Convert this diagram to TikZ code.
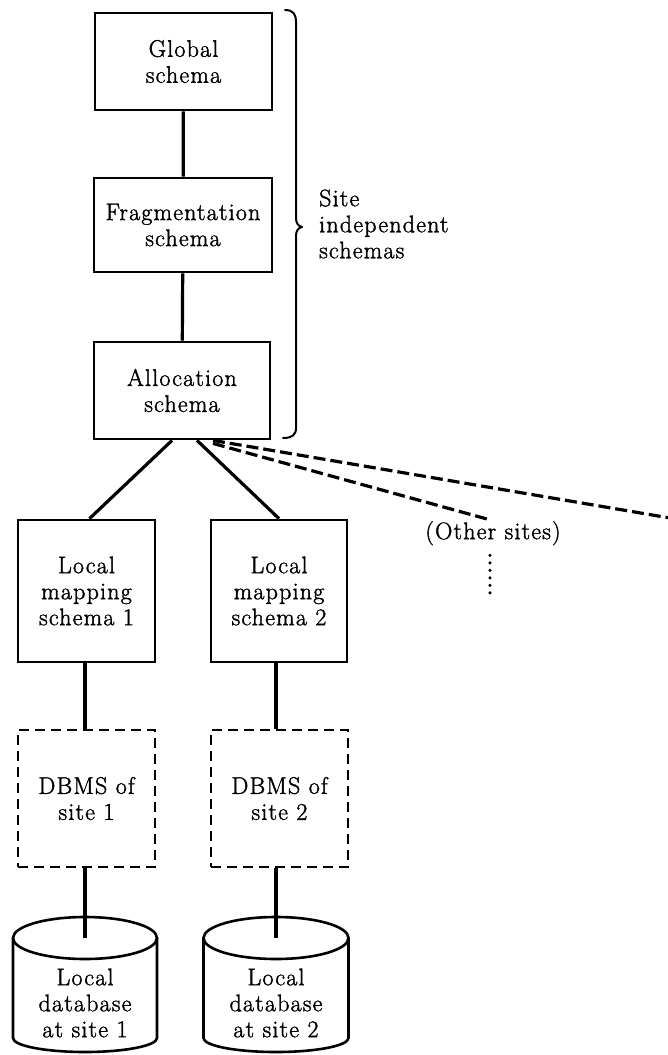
\documentclass[tikz,border=0pt]{standalone}
\usepackage{fontspec}
\usetikzlibrary{calc}
\setmainfont{Latin Modern Roman}[LetterSpace=5,FakeBold=1.5]
\newcommand\lblfont{\fontsize{24}{26}\selectfont}
\begin{document}
\begin{tikzpicture}[x=1pt,y=-1pt,
  txt/.style={font=\lblfont, align=center, inner sep=0pt},
  schemabox/.style={txt, draw, line width=2.8pt, minimum width=#1},
  schemabox/.default=177pt,
  dbmsbox/.style={txt, draw, line width=2.6pt, dash pattern=on 10pt off 6pt,
    minimum width=137pt, minimum height=137pt},
  link/.style={line width=3.2pt},
  farlink/.style={line width=3.2pt, dash pattern=on 12pt off 5pt},
  cyl/.style={line width=2.6pt}]
\useasboundingbox (0,0) rectangle (668,1055);

% site independent schemas
\node[schemabox, minimum height=97pt] (global) at (183.5,61.5) {Global\\schema};
\node[schemabox=178pt, minimum height=94pt] (frag) at (183,225) {Fragmentation\\schema};
\node[schemabox=176pt, minimum height=97pt] (alloc) at (182,390.5) {Allocation\\schema};

\draw[link] (global) -- (frag);
\draw[link] (frag) -- (alloc);

% brace and its label
\draw[line width=2pt, line cap=round, line join=round]
  (285,10) .. controls (293,10) and (296,14) .. (296,22)
  -- (296,218) .. controls (296,223) and (298,226) .. (302,227)
  .. controls (298,228) and (296,231) .. (296,236)
  -- (296,428) .. controls (296,435) and (292,438) .. (283,438);
\node[font=\lblfont, align=left, inner sep=0pt, anchor=west]
  (sitelbl) at (319,224) {Site\\independent\\schemas};

% local mapping schemas
\node[schemabox=137pt, minimum height=142pt] (lm1) at (86.5,591) {Local\\mapping\\schema 1};
\node[schemabox=136pt, minimum height=142pt] (lm2) at (279,591) {Local\\mapping\\schema 2};

\draw[link] ($(alloc.south)+(-10,0)$) -- ($(lm1.north)+(3,0)$);
\draw[link] ($(alloc.south)+(15,0)$) -- (lm2.north);

% other sites
\node[txt, anchor=north] (others) at (493,521) {(Other sites)};
\coordinate (far) at (670,518);
\draw[farlink] ($(alloc.south)+(31,0)$) -- (far);
\draw[farlink] ($(alloc.south)+(31,3)$) -- ($(others.north)+(-6,-2)$);
\draw[line width=3.4pt, dash pattern=on 0pt off 7.5pt, line cap=round]
  ($(others.south)+(-3,10)$) -- ($(others.south)+(-3,50)$);

% DBMS of each site
\node[dbmsbox] (dbms1) at (86.5,798.5) {DBMS of\\site 1};
\node[dbmsbox] (dbms2) at (279.5,798.5) {DBMS of\\site 2};

% local databases
\coordinate (db1top) at (85,938);
\coordinate (db2top) at (276,938);
\draw[cyl] (13,938) -- (13,1038) arc[start angle=180, end angle=0, x radius=72, y radius=14] -- (157,938);
\draw[cyl] (db1top) ellipse[x radius=72, y radius=21];
\node[txt] (db1) at (85,1003) {Local\\database\\at site 1};

\draw[cyl] (203.5,938) -- (203.5,1038) arc[start angle=180, end angle=0, x radius=72.5, y radius=14] -- (348.5,938);
\draw[cyl] (db2top) ellipse[x radius=72.5, y radius=21];
\node[txt] (db2) at (276,1003) {Local\\database\\at site 2};

% vertical links down each site
\draw[link] (lm1.south -| db1top) -- (dbms1.north -| db1top);
\draw[link] (lm2.south -| db2top) -- (dbms2.north -| db2top);
\draw[link] (dbms1.south -| db1top) -- (db1top);
\draw[link] (dbms2.south -| db2top) -- (db2top);
\end{tikzpicture}
\end{document}
